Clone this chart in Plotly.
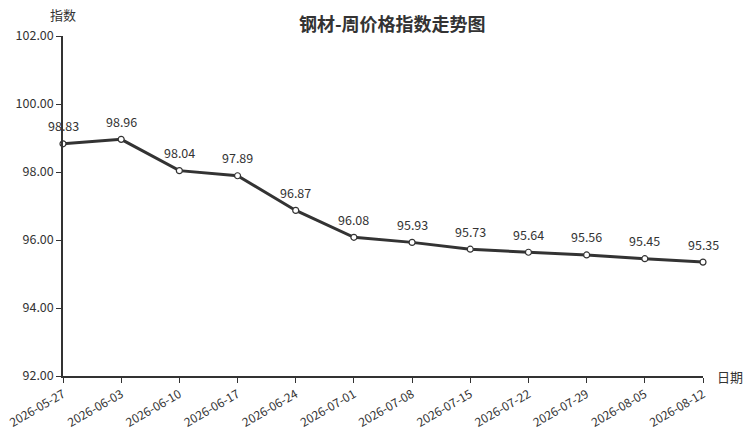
import plotly.graph_objects as go

dates = ["2026-05-27", "2026-06-03", "2026-06-10", "2026-06-17", "2026-06-24", "2026-07-01",
         "2026-07-08", "2026-07-15", "2026-07-22", "2026-07-29", "2026-08-05", "2026-08-12"]
values = [98.83, 98.96, 98.04, 97.89, 96.87, 96.08, 95.93, 95.73, 95.64, 95.56, 95.45, 95.35]
y_ticks = [92, 94, 96, 98, 100, 102]

FONT = "Noto Sans CJK SC"
C = "#333333"

fig = go.Figure()
fig.add_trace(go.Scatter(
    x=dates, y=values, mode="lines+markers",
    line=dict(color=C, width=3),
    marker=dict(size=6, color="white", line=dict(color=C, width=1.2)),
    hoverinfo="skip", showlegend=False, cliponaxis=False,
))

for d, v in zip(dates, values):
    fig.add_annotation(x=d, y=v, text=f"{v:.2f}", showarrow=False, yshift=18,
                       font=dict(family=FONT, size=12.5, color=C))

fig.add_annotation(xref="paper", yref="paper", x=0, y=1, xanchor="center", yanchor="bottom",
                   yshift=10, text="指数", showarrow=False, font=dict(family=FONT, size=13, color=C))
fig.add_annotation(xref="paper", yref="paper", x=1, y=0, xanchor="left", yanchor="middle",
                   xshift=12, text="日期", showarrow=False, font=dict(family=FONT, size=13, color=C))

fig.update_layout(
    width=750, height=430,
    margin=dict(l=63, r=47, t=36, b=54, autoexpand=False),
    paper_bgcolor="white", plot_bgcolor="white",
    font=dict(family=FONT, size=12, color=C),
    title=dict(text="<b>钢材-周价格指数走势图</b>", x=0.523, xanchor="center", y=0.957, yanchor="top",
               font=dict(family=FONT, size=18, color=C)),
    xaxis=dict(type="category", range=[0, len(dates) - 1], showgrid=False, zeroline=False,
               showline=True, linecolor=C, linewidth=1.5, ticks="outside", ticklen=5, tickcolor=C,
               tickangle=-30, automargin=False, tickfont=dict(family=FONT, size=12, color=C)),
    yaxis=dict(range=[92, 102], tickvals=y_ticks, ticktext=[f"{t:.2f}" for t in y_ticks],
               showgrid=False, zeroline=False, showline=True, linecolor=C, linewidth=1.5,
               automargin=False, ticks="outside", ticklen=5, tickcolor=C,
               tickfont=dict(family=FONT, size=12.5, color=C)),
)

fig.write_html("out.html", config={"displayModeBar": False},
               post_script="document.body.style.margin='0';")
